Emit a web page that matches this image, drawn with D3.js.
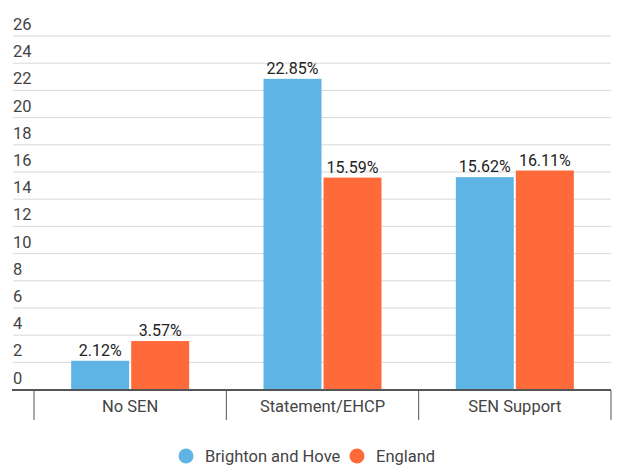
<!DOCTYPE html>
<html>
<head>
<meta charset="utf-8">
<script src="https://cdn.jsdelivr.net/npm/d3@7"></script>
<style>
  body { margin: 0; background: #fff; }
  svg { display: block; font-family: Roboto, "Noto Sans", sans-serif; }
</style>
</head>
<body>
<div id="chart"></div>
<script>
const categories = ['No SEN', 'Statement/EHCP', 'SEN Support'];
const seriesNames = ['Brighton and Hove', 'England'];
const brighton = [2.12, 22.85, 15.62];
const england = [3.57, 15.59, 16.11];
const yTicks = [0, 2, 4, 6, 8, 10, 12, 14, 16, 18, 20, 22, 24, 26];
const colors = ['#5eb5e5', '#ff6a3b'];

const width = 623, height = 467;
const svg = d3.select('#chart').append('svg')
  .attr('width', width)
  .attr('height', height);

const x = d3.scaleBand().domain(categories).range([34, 611]);
// bar pair sits in the middle of each category band
const groupPad = (x.bandwidth() - 118) / 2;
const xInner = d3.scaleBand().domain(seriesNames)
  .range([groupPad, x.bandwidth() - groupPad])
  .paddingInner(0.034);
const y = d3.scaleLinear().domain([0, 26]).range([389.6, 36]);

// Gridlines + tick labels (labels sit above the line)
const grid = svg.append('g');
grid.selectAll('line')
  .data(yTicks.filter(d => d > 0))
  .enter().append('line')
  .attr('x1', 13).attr('x2', 611)
  .attr('y1', d => y(d)).attr('y2', d => y(d))
  .attr('stroke', '#d9d9d9').attr('stroke-width', 1);
grid.selectAll('text')
  .data(yTicks)
  .enter().append('text')
  .attr('x', 13)
  .attr('y', d => y(d) - 6)
  .style('font-size', '16.5px')
  .style('fill', '#444')
  .text(d => d);

// Bars
const rows = categories.map((c, i) => ({ cat: c, vals: [brighton[i], england[i]] }));
const groups = svg.selectAll('.grp')
  .data(rows)
  .enter().append('g')
  .attr('transform', d => `translate(${x(d.cat)},0)`);

groups.selectAll('rect')
  .data(d => d.vals.map((v, j) => ({ s: seriesNames[j], v, j })))
  .enter().append('rect')
  .attr('x', d => xInner(d.s))
  .attr('y', d => y(d.v))
  .attr('width', xInner.bandwidth())
  .attr('height', d => y(0) - y(d.v))
  .attr('fill', d => colors[d.j]);

groups.selectAll('text')
  .data(d => d.vals.map((v, j) => ({ s: seriesNames[j], v, j })))
  .enter().append('text')
  .attr('x', d => xInner(d.s) + xInner.bandwidth() / 2)
  .attr('y', d => y(d.v) - 5)
  .attr('text-anchor', 'middle')
  .style('font-size', '16px')
  .style('fill', '#222')
  .text(d => d.v.toFixed(2) + '%');

// Baseline and category dividers
svg.append('line')
  .attr('x1', 12).attr('x2', 611)
  .attr('y1', y(0) + 0.5).attr('y2', y(0) + 0.5)
  .attr('stroke', '#555').attr('stroke-width', 2);

const dividers = categories.map(c => x(c)).concat([x.range()[1]]);
svg.selectAll('.div')
  .data(dividers)
  .enter().append('line')
  .attr('x1', d => d).attr('x2', d => d)
  .attr('y1', y(0) + 1).attr('y2', 420)
  .attr('stroke', '#555').attr('stroke-width', 1);

svg.selectAll('.cat')
  .data(categories)
  .enter().append('text')
  .attr('x', d => x(d) + x.bandwidth() / 2)
  .attr('y', 412)
  .attr('text-anchor', 'middle')
  .style('font-size', '16.5px')
  .style('fill', '#444')
  .text(d => d);

// Legend
const legendX = [186, 357];
const legend = svg.selectAll('.leg')
  .data(seriesNames)
  .enter().append('g')
  .attr('transform', (d, i) => `translate(${legendX[i]},456)`);
legend.append('circle')
  .attr('r', 7.5)
  .attr('fill', (d, i) => colors[i]);
legend.append('text')
  .attr('x', 19)
  .attr('y', 6)
  .style('font-size', '16.5px')
  .style('fill', '#444')
  .text(d => d);
</script>
</body>
</html>
